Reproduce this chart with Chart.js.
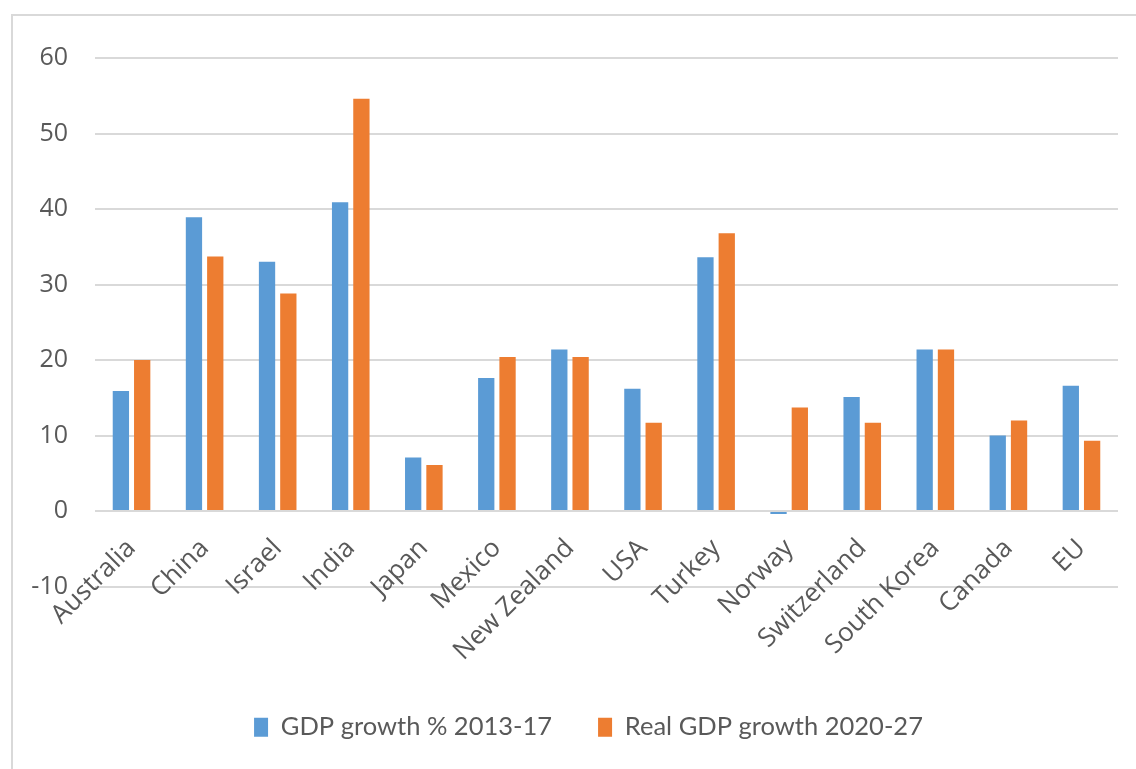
<!DOCTYPE html>
<html>
<head>
<meta charset="utf-8">
<script src="https://cdn.jsdelivr.net/npm/chart.js@4/dist/chart.umd.min.js"></script>
<style>
    html, body { margin: 0; padding: 0; background: #ffffff; overflow: hidden; }
    .frame {
        position: absolute;
        left: 11px;
        top: 14px;
        width: 1125px;
        height: 755px;
        border-left: 2px solid #d9d9d9;
        border-top: 2px solid #d9d9d9;
    }
    .frame canvas { display: block; }
</style>
</head>
<body>
<div class="frame"><canvas id="gdpChart" width="1123" height="753"></canvas></div>
<script>
const countries = ['Australia', 'China', 'Israel', 'India', 'Japan', 'Mexico', 'New Zealand', 'USA', 'Turkey', 'Norway', 'Switzerland', 'South Korea', 'Canada', 'EU'];
const growth2013to17 = [15.9, 38.9, 33.0, 40.9, 7.1, 17.6, 21.4, 16.2, 33.6, -0.4, 15.1, 21.4, 10.0, 16.6];
const realGrowth2020to27 = [20.0, 33.7, 28.8, 54.6, 6.1, 20.4, 20.4, 11.7, 36.8, 13.7, 11.7, 21.4, 12.0, 9.3];
const yTicks = [-10, 0, 10, 20, 30, 40, 50, 60];

const textColor = '#595959';
const gridColor = '#d9d9d9';
const axisFont = "'Open Sans', sans-serif";
const legendFont = "Lato, 'Open Sans', sans-serif";

Chart.defaults.color = textColor;
Chart.defaults.font.family = axisFont;

// nudge the legend row right so it sits under the bars rather than the whole canvas
const legendShift = {
    id: 'legendShift',
    afterLayout(chart) {
        if (chart.legend) chart.legend.left += 46;
    }
};

new Chart(document.getElementById('gdpChart'), {
    type: 'bar',
    data: {
        labels: countries,
        datasets: [
            {
                label: 'GDP growth % 2013-17',
                data: growth2013to17,
                backgroundColor: '#5b9bd5',
                categoryPercentage: 0.583,
                barPercentage: 0.765
            },
            {
                label: 'Real GDP growth 2020-27',
                data: realGrowth2020to27,
                backgroundColor: '#ed7d31',
                categoryPercentage: 0.583,
                barPercentage: 0.765
            }
        ]
    },
    plugins: [legendShift],
    options: {
        responsive: false,
        animation: false,
        layout: { padding: { top: 33, right: 18, left: 0, bottom: 19 } },
        scales: {
            y: {
                min: yTicks[0],
                max: yTicks[yTicks.length - 1],
                afterBuildTicks: (scale) => { scale.ticks = yTicks.map(v => ({ value: v })); },
                afterFit: (scale) => { scale.width = 82; },
                grid: { color: gridColor, lineWidth: 2, drawTicks: false },
                border: { display: false },
                ticks: { padding: 27, font: { size: 25 }, color: textColor }
            },
            x: {
                // category labels hang from the zero line
                position: { y: 0 },
                grid: { display: false, drawTicks: false },
                border: { display: false },
                ticks: { minRotation: 45, maxRotation: 45, padding: 22, font: { size: 26 }, color: textColor, autoSkip: false }
            }
        },
        plugins: {
            tooltip: { enabled: false },
            legend: {
                position: 'bottom',
                // empty title only adds the gap between the rotated labels and the legend row
                title: { display: true, text: '', font: { size: 10 }, padding: { top: 70, bottom: 0 } },
                labels: {
                    boxWidth: 14,
                    boxHeight: 19,
                    padding: 46,
                    font: { family: legendFont, size: 25.5 },
                    color: textColor
                }
            }
        }
    }
});
</script>
</body>
</html>
